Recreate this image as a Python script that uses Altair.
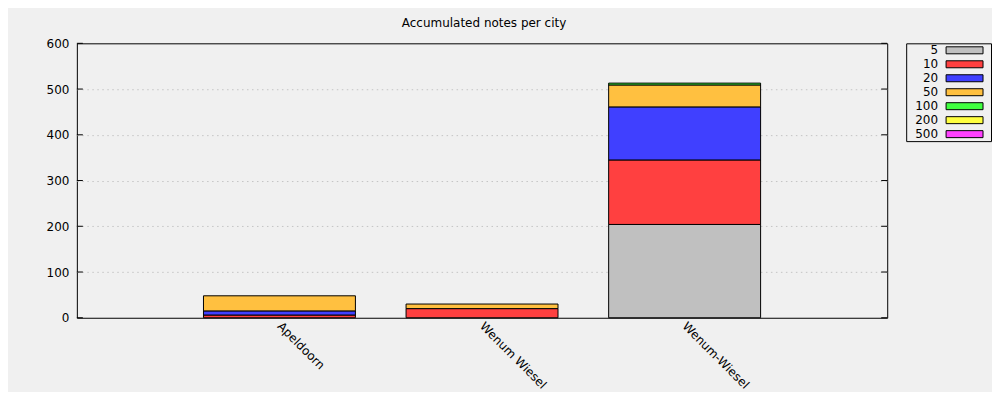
import altair as alt
import pandas as pd

cities = ["Apeldoorn", "Wenum Wiesel", "Wenum-Wiesel"]
denoms = ["5", "10", "20", "50", "100", "200", "500"]
colors = ["#c0c0c0", "#ff4040", "#4040ff", "#ffc040", "#40ff40", "#ffff40", "#ff40ff"]
apeldoorn = [0, 6, 9, 33, 0, 0, 0]
wenum_wiesel_space = [0, 20, 0, 10, 0, 0, 0]
wenum_wiesel_dash = [204, 141, 116, 48, 4, 0, 0]
y_ticks = [0, 100, 200, 300, 400, 500, 600]

series = [apeldoorn, wenum_wiesel_space, wenum_wiesel_dash]
rows = []
for c, vals in zip(cities, series):
    for i, (d, v) in enumerate(zip(denoms, vals)):
        rows.append({"city": c, "denom": d, "idx": i, "value": v})
df = pd.DataFrame(rows)
tick_df = pd.DataFrame({"tick": y_ticks})
leg_df = pd.DataFrame({"denom": denoms, "idx": list(range(len(denoms)))})

FONT = "DejaVu Sans"
W, H = 812, 275

yscale = alt.Scale(domain=[0, 600], nice=False)

bars = alt.Chart(df).transform_filter(alt.datum.value > 0).mark_bar(
    stroke="black", strokeWidth=1).encode(
    x=alt.X("city:N", sort=cities, title=None,
            scale=alt.Scale(domain=cities, paddingInner=0.25, paddingOuter=0.625),
            axis=alt.Axis(labelAngle=45, labelAlign="left", labelBaseline="middle",
                          ticks=False, domain=False, labelPadding=6,
                          labelFontSize=12, labelColor="black", labelFont=FONT)),
    y=alt.Y("value:Q", stack=True, scale=yscale, title=None,
            axis=alt.Axis(values=y_ticks, ticks=False, tickSize=0, domain=False,
                          labelPadding=8, minExtent=68, labelFontSize=12,
                          labelColor="black", labelFont=FONT,
                          grid=True, gridColor="#c4c4c4", gridDash=[1.5, 3.5],
                          gridWidth=1,
                          gridOpacity={"condition": {"test": "datum.value == 0 || datum.value == 600",
                                                     "value": 0},
                                       "value": 1})),
    color=alt.Color("denom:N", scale=alt.Scale(domain=denoms, range=colors), legend=None),
    order=alt.Order("idx:Q", sort="ascending"),
)

ticks_left = alt.Chart(tick_df).mark_rule(color="black", strokeWidth=1).encode(
    y=alt.Y("tick:Q", scale=yscale),
    x=alt.value(0), x2=alt.value(6),
)
ticks_right = alt.Chart(tick_df).mark_rule(color="black", strokeWidth=1).encode(
    y=alt.Y("tick:Q", scale=yscale),
    x=alt.value(W - 6), x2=alt.value(W),
)

main = alt.layer(bars, ticks_left, ticks_right).properties(width=W, height=H)

lscale = alt.Scale(domain=denoms, paddingInner=0.5, paddingOuter=0.25)
leg_rect = alt.Chart(leg_df).mark_rect(stroke="black", strokeWidth=1).encode(
    y=alt.Y("denom:N", sort=denoms, scale=lscale, axis=None),
    x=alt.value(40), x2=alt.value(77),
    color=alt.Color("denom:N", scale=alt.Scale(domain=denoms, range=colors), legend=None),
)
leg_text = alt.Chart(leg_df).mark_text(align="right", baseline="middle", fontSize=12,
                                        font=FONT, color="black").encode(
    y=alt.Y("denom:N", sort=denoms, scale=lscale, axis=None),
    x=alt.value(32),
    text="denom:N",
)
legend = alt.layer(leg_rect, leg_text).properties(width=85, height=98)

chart = alt.hconcat(main, legend, spacing=17).properties(
    title=alt.TitleParams("Accumulated notes per city", fontSize=12, font=FONT,
                          fontWeight="normal", color="black", anchor="middle",
                          dx=-16, offset=7),
    padding={"left": 0, "top": 8, "right": 0, "bottom": 0},
).configure(background="#f0f0f0").configure_view(stroke="black", strokeWidth=1)

chart.save("out.html", embed_options={"renderer": "svg", "actions": False})
